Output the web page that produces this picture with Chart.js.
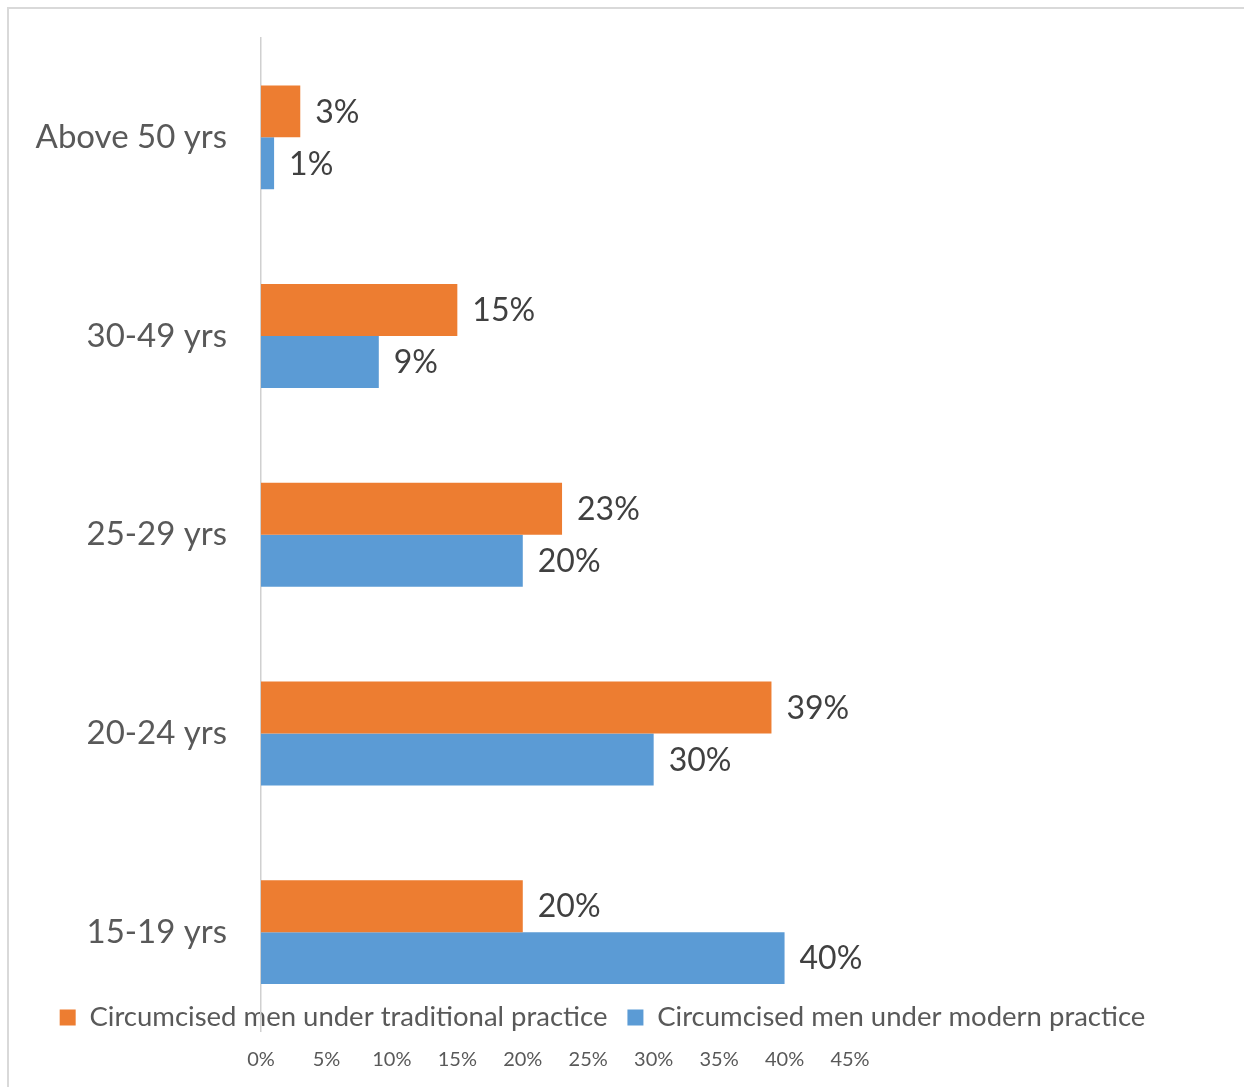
<!DOCTYPE html>
<html>
<head>
<meta charset="utf-8">
<script src="https://cdn.jsdelivr.net/npm/chart.js@4/dist/chart.umd.min.js"></script>
<style>
  html, body { margin: 0; padding: 0; background: #fff; overflow: hidden; }
  #frame {
    position: absolute; left: 7px; top: 7px;
    width: 1300px; height: 1200px;
    border-left: 2px solid #d9d9d9; border-top: 2px solid #d9d9d9;
  }
  #canvas { display: block; }
</style>
</head>
<body>
<div id="frame"><canvas id="canvas" width="1235" height="1120"></canvas></div>
<script>
const canvas = document.getElementById('canvas');

const ageGroups = ['Above 50 yrs', '30-49 yrs', '25-29 yrs', '20-24 yrs', '15-19 yrs'];
const traditional = [3, 15, 23, 39, 20]; // % circumcised, traditional practice
const modern = [1, 9, 20, 30, 40];       // % circumcised, modern practice
const seriesNames = ['Circumcised men under traditional practice', 'Circumcised men under modern practice'];

const FontFamily = 'Lato, "Open Sans", sans-serif';
const LegendFontSize = 27.5;
const LegendPadding = 20;
const LegendNudge = 14; // legend text sits this far above the plot bottom

// value labels just past the end of each bar
const barLabels = {
    id: 'barLabels',
    afterDatasetsDraw(chart) {
        const ctx = chart.ctx;
        ctx.save();
        ctx.font = '32px ' + FontFamily;
        ctx.fillStyle = '#404040';
        ctx.textAlign = 'left';
        ctx.textBaseline = 'middle';
        chart.data.datasets.forEach((ds, i) => {
            chart.getDatasetMeta(i).data.forEach((bar, j) => {
                ctx.fillText(ds.data[j] + '%', bar.x + 15, bar.y + 1);
            });
        });
        ctx.restore();
    }
};

// pull the legend up so it overlaps the bottom of the plot, above the tick labels
const legendOverlap = {
    id: 'legendOverlap',
    afterLayout(chart) {
        const lg = chart.legend;
        const h = lg.height;
        lg.top = chart.chartArea.bottom - LegendNudge - LegendPadding - LegendFontSize / 2;
        lg.bottom = lg.top + h;
    }
};

const noPad = s => { s.paddingTop = 0; s.paddingBottom = 0; };

new Chart(canvas, {
    type: 'bar',
    data: {
        labels: ageGroups,
        datasets: [
            {
                label: seriesNames[0],
                data: traditional,
                backgroundColor: '#ED7D31',
                yAxisID: 'y',
                barPercentage: 1,
                categoryPercentage: 0.523,
            },
            {
                label: seriesNames[1],
                data: modern,
                backgroundColor: '#5B9BD5',
                yAxisID: 'y',
                barPercentage: 1,
                categoryPercentage: 0.523,
            },
        ],
    },
    options: {
        indexAxis: 'y',
        responsive: false,
        animation: false,
        layout: { padding: { top: 29, right: 48, left: 0, bottom: 0 } },
        plugins: {
            tooltip: { enabled: false },
            legend: {
                position: 'bottom',
                labels: {
                    font: { family: FontFamily, size: LegendFontSize },
                    color: '#595959',
                    boxWidth: 16,
                    boxHeight: 16,
                    padding: LegendPadding,
                },
            },
        },
        scales: {
            x: {
                min: 0,
                max: 45,
                grid: { display: false, drawTicks: false },
                border: { display: false },
                ticks: {
                    stepSize: 5,
                    autoSkip: false,
                    maxRotation: 0,
                    padding: 16,
                    color: '#595959',
                    font: { family: FontFamily, size: 20 },
                    callback: v => v + '%',
                },
                afterFit: s => { s.height = 40; },
            },
            y: {
                grid: { display: false, drawTicks: false },
                border: { display: true, color: '#d0d0d0', width: 1.5 },
                ticks: {
                    padding: 34,
                    color: '#595959',
                    font: { family: FontFamily, size: 33 },
                },
                afterFit: s => { s.width = 252; noPad(s); },
            },
            // empty axis that keeps the plot clear of the right-hand side
            pad: {
                type: 'linear',
                axis: 'y',
                position: 'right',
                grid: { display: false },
                border: { display: false },
                ticks: { display: false },
                afterFit: s => { s.width = 346; noPad(s); },
            },
        },
    },
    plugins: [barLabels, legendOverlap],
});
</script>
</body>
</html>
